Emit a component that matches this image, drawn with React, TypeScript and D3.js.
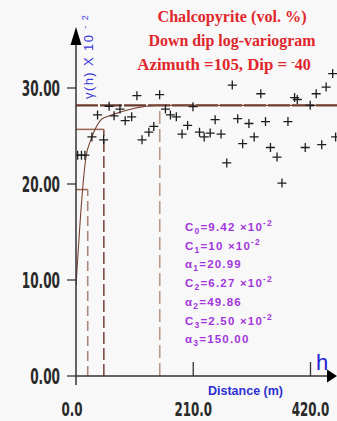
import React, { useEffect, useRef } from 'react';
import * as d3 from 'd3';

// experimental variogram points (distance m, gamma x10^-2)
const distances = [3, 9.8, 16, 28.5, 38.6, 49.5, 59.3, 68.2, 78.8, 88.1, 99.7, 109.1, 118.3, 130.5, 139.3, 149.8,
  160.2, 169.1, 179.7, 189.9, 199.9, 209.5, 221.2, 229.6, 240.3, 249.2, 259.8, 270, 279.9, 289.6, 298.5, 309.7,
  319.1, 331, 339.4, 348.3, 360, 368.9, 379.6, 391.5, 396.3, 410.6, 419.5, 430.2, 440.1, 448, 459.7, 465];
const gammas = [23.0, 23.0, 23.0, 24.9, 27.2, 24.6, 28.1, 27.1, 27.8, 26.6, 27.0, 29.2, 24.6, 25.4, 26.0, 29.3,
  27.8, 27.2, 27.0, 25.2, 26.1, 28.05, 25.4, 24.9, 25.3, 26.7, 25.2, 22.2, 30.3, 26.8, 24.2, 26.3,
  24.9, 29.4, 26.5, 23.8, 22.8, 20.1, 26.5, 29.0, 28.8, 23.8, 28.2, 29.4, 24.1, 30.1, 31.5, 24.9];

const yTicks = [0, 10, 20, 30];
const xTicks = [0, 210, 420];

// nested spherical model
const nugget = 9.42;
const sills = [10, 6.27, 2.5];
const ranges = [20.99, 49.86, 150];

const titleLines = ['Chalcopyrite (vol. %)', 'Down dip log-variogram', 'Azimuth =105, Dip = '];
const dipValue = '40';

const paramSymbols = ['C', 'C', 'α', 'C', 'α', 'C', 'α'];
const paramSubs = ['0', '1', '1', '2', '2', '3', '3'];
const paramValues = ['9.42', '10', '20.99', '6.27', '49.86', '2.50', '150.00'];
const paramScaled = [true, true, false, true, false, true, false];

const W = 337, H = 421;

const sph = (h: number, a: number) => (h >= a ? 1 : 1.5 * (h / a) - 0.5 * Math.pow(h / a, 3));
const model = (h: number) => nugget + sills.reduce((s, c, i) => s + c * sph(h, ranges[i]), 0);

export default function App() {
  const ref = useRef<SVGSVGElement>(null);

  useEffect(() => {
    document.body.style.margin = '0';
    const svg = d3.select(ref.current);
    svg.selectAll('*').remove();

    const x = d3.scaleLinear().domain([0, 420]).range([76, 310.5]);
    const y = d3.scaleLinear().domain([0, 30]).range([376, 88]);

    svg.append('rect').attr('width', W).attr('height', H).attr('fill', '#f8f8f8');

    svg.append('defs').append('clipPath').attr('id', 'plotclip')
      .append('rect').attr('x', 76).attr('y', 0).attr('width', W - 76).attr('height', 376);

    const plot = svg.append('g').attr('clip-path', 'url(#plotclip)');

    // cumulative sills
    const cum = sills.map((_, i) => nugget + d3.sum(sills.slice(0, i + 1)));
    const vColors = ['#a88878', '#7e4c42', '#b89a88'];
    const vDash = ['10,5', '12,4', '13,5'];

    cum.forEach((c, i) => {
      plot.append('line')
        .attr('x1', x(ranges[i])).attr('x2', x(ranges[i]))
        .attr('y1', y(0)).attr('y2', y(c))
        .attr('stroke', vColors[i]).attr('stroke-width', 1.6)
        .attr('stroke-dasharray', vDash[i]);
      const last = i === cum.length - 1;
      plot.append('line')
        .attr('x1', x(0)).attr('x2', last ? W : x(ranges[i]))
        .attr('y1', y(c)).attr('y2', y(c))
        .attr('stroke', last ? '#6b3b2e' : '#9a6252')
        .attr('stroke-width', last ? 2.2 : 1.5)
        .attr('stroke-dasharray', last ? '22,2' : null);
    });

    // model curve
    const hs = d3.range(0, 471, 0.5);
    const line = d3.line<number>().x(h => x(h)).y(h => y(model(h)));
    plot.append('path').datum(hs).attr('d', line)
      .attr('fill', 'none').attr('stroke', '#7a4434').attr('stroke-width', 1.1);

    // points
    const pts = distances.map((d, i) => ({ d, g: gammas[i] }));
    const s = 4.5;
    plot.selectAll('.pt').data(pts).join('path')
      .attr('class', 'pt')
      .attr('d', p => `M${x(p.d) - s},${y(p.g)}H${x(p.d) + s}M${x(p.d)},${y(p.g) - s}V${y(p.g) + s}`)
      .attr('stroke', '#1e1e1e').attr('stroke-width', 1.3).attr('fill', 'none');

    // axes
    const axisColor = '#333';
    svg.append('line').attr('x1', 76).attr('x2', 76).attr('y1', 385).attr('y2', 40)
      .attr('stroke', axisColor).attr('stroke-width', 1.5);
    svg.append('path').attr('d', 'M76,27L70.5,45L81.5,45Z').attr('fill', '#000');
    svg.append('line').attr('x1', 76).attr('x2', 330).attr('y1', 376).attr('y2', 376)
      .attr('stroke', axisColor).attr('stroke-width', 1.5);
    svg.append('path').attr('d', 'M337,376L327,369.5L327,382.5Z').attr('fill', '#000');

    const tickFont = '"DejaVu Sans Condensed", "DejaVu Sans", sans-serif';

    const yAxis = svg.append('g');
    yAxis.selectAll('line').data(yTicks).join('line')
      .attr('x1', 67).attr('x2', 76).attr('y1', d => y(d)).attr('y2', d => y(d))
      .attr('stroke', axisColor).attr('stroke-width', 1.3);
    yAxis.selectAll('text').data(yTicks).join('text')
      .attr('transform', d => `translate(60,${y(d) + 8}) scale(0.64,1)`)
      .attr('text-anchor', 'end')
      .attr('font-family', tickFont)
      .attr('font-weight', 'bold').attr('font-size', 21)
      .attr('fill', '#2a2a2a')
      .text(d => d.toFixed(2));

    const xAxis = svg.append('g');
    xAxis.selectAll('line').data(xTicks.filter(d => d > 0)).join('line')
      .attr('x1', d => x(d)).attr('x2', d => x(d)).attr('y1', 376).attr('y2', 362)
      .attr('stroke', axisColor).attr('stroke-width', 1.3);
    xAxis.selectAll('text').data(xTicks).join('text')
      .attr('transform', (d, i) => `translate(${x(d) + (i === 0 ? -4 : 0)},415.5) scale(0.66,1)`)
      .attr('text-anchor', 'middle')
      .attr('font-family', tickFont)
      .attr('font-weight', 'bold').attr('font-size', 20)
      .attr('fill', '#2a2a2a')
      .text(d => d.toFixed(1));

    // title
    const tl = [149, 167, 154];
    titleLines.forEach((t, i) => {
      const g = svg.append('g').attr('transform', `translate(232,${22 + i * 24}) scale(1,1.08)`);
      const tx = g.append('text')
        .attr('text-anchor', 'middle')
        .attr('font-family', '"Liberation Serif", "Times New Roman", serif')
        .attr('font-weight', 'bold').attr('font-size', 16)
        .attr('fill', '#e0262c');
      if (i === 2) {
        tx.attr('x', -8);
        tx.append('tspan').attr('textLength', tl[i]).attr('lengthAdjust', 'spacingAndGlyphs').text(t);
        tx.append('tspan').attr('font-size', 10).attr('dy', -5).text('-');
        tx.append('tspan').attr('dy', 5).text(dipValue);
      } else {
        tx.attr('textLength', tl[i]).attr('lengthAdjust', 'spacingAndGlyphs').text(t);
      }
    });

    // y label
    const yl = svg.append('text')
      .attr('transform', 'translate(93,99) rotate(-90)')
      .attr('font-family', '"Liberation Sans", Arial, sans-serif')
      .attr('font-size', 13).attr('letter-spacing', 1.4).attr('fill', '#3a3ad8')
      .text('γ(h) X 10 ');
    yl.append('tspan').attr('font-size', 9).attr('dy', -5).text('- 2');

    // x label
    svg.append('text')
      .attr('x', 208).attr('y', 395)
      .attr('font-family', '"Liberation Sans", Arial, sans-serif')
      .attr('font-weight', 'bold').attr('font-size', 12)
      .attr('fill', '#3030d0')
      .attr('textLength', 75).attr('lengthAdjust', 'spacingAndGlyphs')
      .text('Distance (m)');
    svg.append('text')
      .attr('x', 316).attr('y', 370)
      .attr('font-family', '"Liberation Sans", Arial, sans-serif')
      .attr('font-size', 22).attr('fill', '#2222d0')
      .text('h');

    // parameters
    paramSymbols.forEach((sym, i) => {
      const t = svg.append('text')
        .attr('x', 185).attr('y', 231 + i * 18.7)
        .attr('font-family', '"Liberation Sans", Arial, sans-serif')
        .attr('font-weight', 'bold').attr('font-size', 11.5)
        .attr('letter-spacing', 1.2)
        .attr('fill', '#a236dc');
      t.append('tspan').text(sym);
      t.append('tspan').attr('font-size', 8.5).attr('dy', 3).text(paramSubs[i]);
      t.append('tspan').attr('dy', -3).text('=' + paramValues[i] + (paramScaled[i] ? ' ×10' : ''));
      if (paramScaled[i]) t.append('tspan').attr('font-size', 8.5).attr('dy', -5).text('-2');
    });
  }, []);

  return <svg ref={ref} width={W} height={H} style={{ display: 'block' }} />;
}
